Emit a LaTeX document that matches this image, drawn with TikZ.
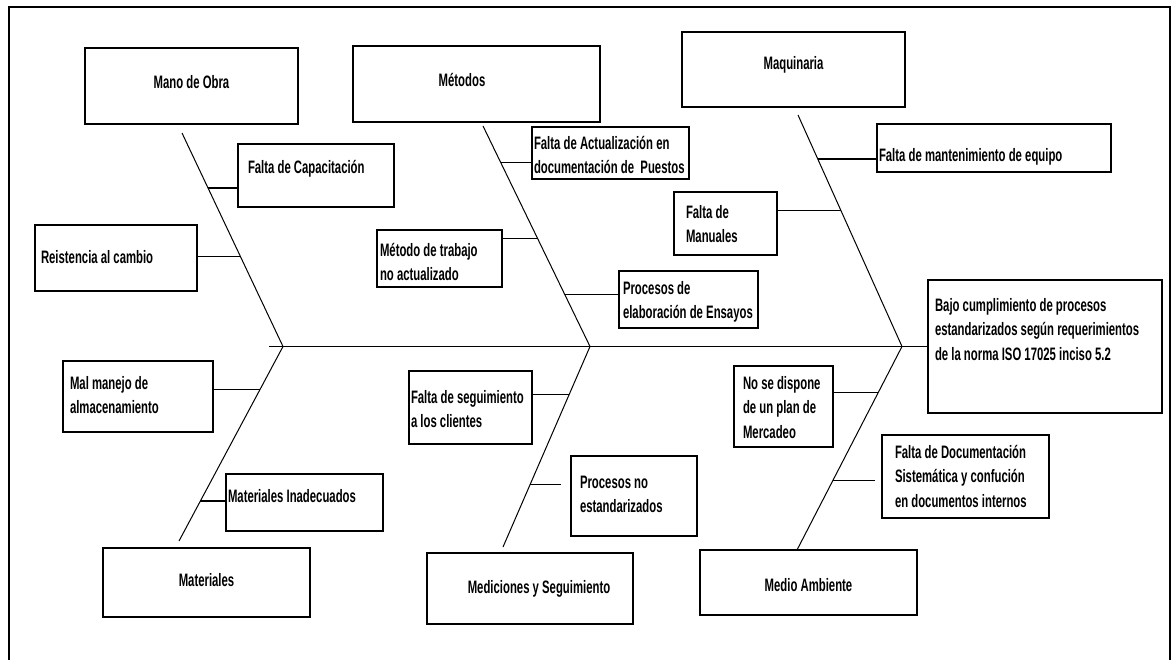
\documentclass[tikz,border=0pt]{standalone}
\usepackage{fontspec}
\setmainfont[FakeStretch=0.63]{Liberation Sans}
\usetikzlibrary{calc}
\newlength\bxleft
\newcommand\bxt[5]{\parbox[c][#2][t]{#1}{\setlength\bxleft{#3}\vspace*{\dimexpr#4+1pt\relax}#5}}
\newcommand\bl[1]{\hbox to\hsize{\hspace*{\bxleft}\strut #1\hfil}}
\newcommand\bc[2]{\hbox to\hsize{\hfil\hspace*{#1}\strut #2\hfil}}
\begin{document}
\begin{tikzpicture}[x=1pt,y=-1pt,
  box/.style={draw,line width=1.3pt,inner sep=0pt},
  bone/.style={line width=1pt},
  link/.style={line width=1.3pt},
  every node/.style={font=\fontsize{18}{24.5}\selectfont\bfseries}]
\useasboundingbox (0,0) rectangle (1172,660);
\draw[line width=2.4pt] (9,7) rectangle (1170,672);

% category boxes
\node[box] (mano) at (191.5,86) {\bxt{213pt}{76pt}{0pt}{22.2pt}{\bc{0pt}{Mano de Obra}}};
\node[box] (met) at (476.5,84) {\bxt{247pt}{76pt}{0pt}{22.2pt}{\bc{-29pt}{Métodos}}};
\node[box] (maq) at (793.5,69.5) {\bxt{223pt}{75pt}{0pt}{19.2pt}{\bc{0pt}{Maquinaria}}};
\node[box] (mat) at (206.5,582.5) {\bxt{207pt}{69pt}{0pt}{20.2pt}{\bc{0pt}{Materiales}}};
\node[box] (medic) at (530,588.5) {\bxt{206pt}{71pt}{0pt}{22.2pt}{\bc{18pt}{Mediciones y Seguimiento}}};
\node[box] (medio) at (808.5,582.5) {\bxt{217pt}{65pt}{0pt}{23.2pt}{\bc{0pt}{Medio Ambiente}}};

% effect box
\node[box] (bajo) at (1045,346.5) {\bxt{234pt}{133pt}{7pt}{13.2pt}{\bl{Bajo cumplimiento de procesos}\bl{estandarizados según requerimientos}\bl{de la norma ISO 17025 inciso 5.2}}};

% cause boxes
\node[box] (cap) at (316,175.5) {\bxt{156pt}{63pt}{10pt}{11.2pt}{\bl{Falta de Capacitación}}};
\node[box] (reis) at (116,258) {\bxt{162pt}{66pt}{6pt}{20.2pt}{\bl{Reistencia al cambio}}};
\node[box] (mettrab) at (439.5,258.5) {\bxt{125pt}{57pt}{3pt}{8.2pt}{\bl{Método de trabajo}\bl{no actualizado}}};
\node[box] (actual) at (610.5,153) {\bxt{157pt}{52pt}{2pt}{4.2pt}{\bl{Falta de Actualización en}\bl{documentación de\ \ Puestos}}};
\node[box] (ensayos) at (688.5,299.5) {\bxt{139pt}{57pt}{4pt}{5.2pt}{\bl{Procesos de}\bl{elaboración de Ensayos}}};
\node[box] (manuales) at (725.5,223.5) {\bxt{103pt}{63pt}{12pt}{8.2pt}{\bl{Falta de}\bl{Manuales}}};
\node[box] (mant) at (994,148) {\bxt{234pt}{48pt}{2pt}{19.2pt}{\bl{Falta de mantenimiento de equipo}}};
\node[box] (malman) at (138,396.5) {\bxt{150pt}{71pt}{7pt}{10.2pt}{\bl{Mal manejo de}\bl{almacenamiento}}};
\node[box] (matinad) at (304.5,502.5) {\bxt{157pt}{57pt}{2pt}{10.2pt}{\bl{Materiales Inadecuados}}};
\node[box] (seguim) at (470.5,407.5) {\bxt{123pt}{73pt}{2pt}{14.2pt}{\bl{Falta de seguimiento}\bl{a los clientes}}};
\node[box] (procno) at (634,496) {\bxt{126pt}{80pt}{9pt}{14.2pt}{\bl{Procesos no}\bl{estandarizados}}};
\node[box] (nosedisp) at (783.5,406.5) {\bxt{99pt}{81pt}{9pt}{5.2pt}{\bl{No se dispone}\bl{de un plan de}\bl{Mercadeo}}};
\node[box] (faltadoc) at (965.5,476.5) {\bxt{167pt}{83pt}{13pt}{5.2pt}{\bl{Falta de Documentación}\bl{Sistemática y confución}\bl{en documentos internos}}};

% skeleton
\coordinate (s0) at (269,346.5);
\coordinate (j1) at (283,346.5);
\coordinate (j2) at (590,346.5);
\coordinate (j3) at (902,346.5);
\coordinate (t1) at (182,133);
\coordinate (t2) at (483,126);
\coordinate (t3) at (798,115);
\coordinate (b1) at (179,541);
\coordinate (b2) at (503,547);
\coordinate (b3) at (797,550);
\draw[bone] (s0) -- (bajo.west);
\draw[bone] (t1) -- (j1) -- (b1);
\draw[bone] (t2) -- (j2) -- (b2);
\draw[bone] (t3) -- (j3) -- (b3);

% connectors
\coordinate (p1) at ($(t1)!0.257!(j1)$);
\coordinate (p2) at ($(t1)!0.579!(j1)$);
\coordinate (p3) at ($(t2)!0.167!(j2)$);
\coordinate (p4) at ($(t2)!0.511!(j2)$);
\coordinate (p5) at ($(t2)!0.765!(j2)$);
\coordinate (p6) at ($(t3)!0.19!(j3)$);
\coordinate (p7) at ($(t3)!0.414!(j3)$);
\coordinate (q1) at ($(j1)!0.222!(b1)$);
\coordinate (q2) at ($(j1)!0.794!(b1)$);
\coordinate (q3) at ($(j2)!0.24!(b2)$);
\coordinate (q4) at ($(j2)!0.69!(b2)$);
\coordinate (q5) at ($(j3)!0.227!(b3)$);
\coordinate (q6) at ($(j3)!0.66!(b3)$);
\coordinate (e4) at ($(q4 -| procno.west)+(-9,0)$);
\coordinate (e6) at ($(q6 -| faltadoc.west)+(-6,0)$);
\draw[link] (p1) -- (p1 -| cap.west);
\draw[link] (p2) -- (p2 -| reis.east);
\draw[link] (p3) -- (p3 -| actual.west);
\draw[link] (p4) -- (p4 -| mettrab.east);
\draw[link] (p5) -- (p5 -| ensayos.west);
\draw[link] (p6) -- (p6 -| mant.west);
\draw[link] (p7) -- (p7 -| manuales.east);
\draw[link] (q1) -- (q1 -| malman.east);
\draw[link] (q2) -- (q2 -| matinad.west);
\draw[link] (q3) -- (q3 -| seguim.east);
\draw[link] (q4) -- (e4);
\draw[link] (q5) -- (q5 -| nosedisp.east);
\draw[link] (q6) -- (e6);
\end{tikzpicture}
\end{document}
